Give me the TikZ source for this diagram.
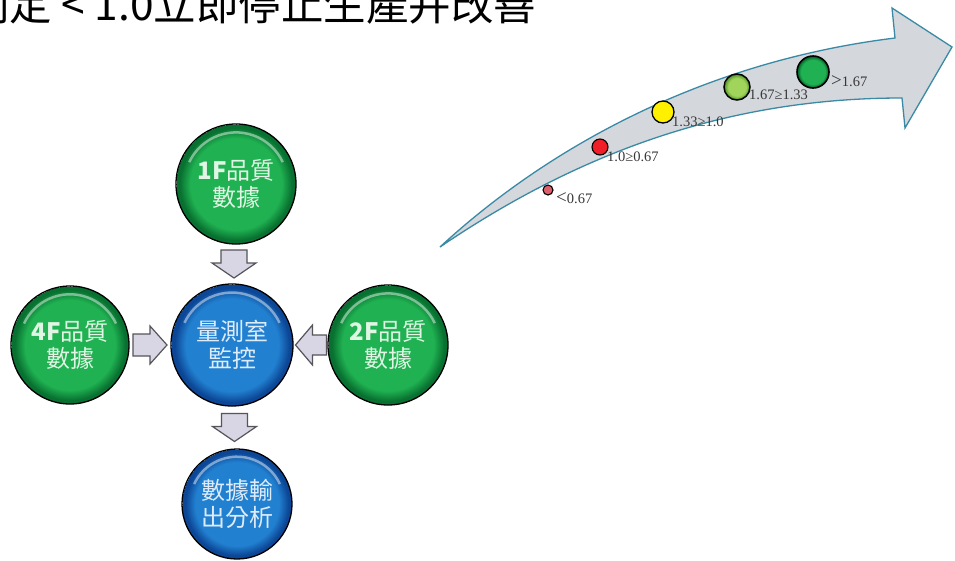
\documentclass[tikz,border=0pt]{standalone}
\usepackage{fontspec}
\setmainfont{Liberation Serif}
\newfontfamily\cjk{Noto Sans CJK TC}
\usetikzlibrary{calc}
\definecolor{gC}{RGB}{32,178,82}
\definecolor{gD}{RGB}{8,112,48}
\definecolor{gT}{RGB}{225,245,228}
\definecolor{bC}{RGB}{34,128,208}
\definecolor{bD}{RGB}{12,70,150}
\definecolor{bT}{RGB}{222,236,250}
\definecolor{lgC}{RGB}{160,212,90}
\definecolor{lgD}{RGB}{95,160,50}
\definecolor{arrFill}{RGB}{216,213,228}
\definecolor{arrLine}{RGB}{85,85,90}
\definecolor{bandFill}{RGB}{212,215,220}
\definecolor{bandLine}{RGB}{58,138,165}
\definecolor{lblC}{RGB}{55,55,55}
\pgfdeclareradialshading{greenball}{\pgfpoint{0bp}{0bp}}{color(0bp)=(gC); color(19bp)=(gC); color(23.5bp)=(gD); color(25bp)=(gD)}
\pgfdeclareradialshading{blueball}{\pgfpoint{0bp}{0bp}}{color(0bp)=(bC); color(19bp)=(bC); color(23.5bp)=(bD); color(25bp)=(bD)}
\pgfdeclareradialshading{lgreenball}{\pgfpoint{0bp}{0bp}}{color(0bp)=(lgC); color(17bp)=(lgC); color(23bp)=(lgD); color(25bp)=(lgD)}
\tikzset{
  ball/.style={circle, draw=black, line width=1.3pt, inner sep=0pt, align=center,
    font=\cjk\fontsize{24}{27}\selectfont,
    path picture={\draw[white, opacity=0.45, line width=2.5pt]
      (path picture bounding box.center) ++(25:0.86*#1) arc (25:155:0.86*#1);}},
  gball/.style={ball=#1, minimum size=2*#1, shading=greenball, text=gT},
  bball/.style={ball=#1, minimum size=2*#1, shading=blueball, text=bT},
  smallarrow/.style={fill=arrFill, draw=arrLine, line width=1.2pt, line join=miter},
  dot/.style={circle, draw=black, line width=1.1pt, inner sep=0pt},
  lbl/.style={anchor=west, inner sep=0pt, text=lblC, font=\fontsize{14.5}{16}\selectfont},
}
\begin{document}
\begin{tikzpicture}[x=1pt, y=-1pt]
\useasboundingbox (0,0) rectangle (955,560);
\fill[white] (0,0) rectangle (955,560);

% title (cut at the page edges)
\node[anchor=base west, inner sep=0pt, font=\cjk\fontsize{42.5}{48}\selectfont] (title) at (-33,20) {判定 < 1.0立即停止生產并改善};

% curved band arrow
\filldraw[fill=bandFill, draw=bandLine, line width=1.3pt, line join=miter]
  (440,247) .. controls (545,150) and (700,62) .. (895,38) -- (892,8) -- (952,47)
  -- (905,128) -- (902,98) .. controls (740,98) and (590,145) .. (440,247) -- cycle;

% traffic dots
\node[dot, fill={rgb,255:red,222;green,95;blue,108}, minimum size=10pt] (d1) at (548,190) {};
\node[dot, fill={rgb,255:red,240;green,30;blue,40}, minimum size=16pt] (d2) at (600,147) {};
\node[dot, fill={rgb,255:red,255;green,240;blue,0}, minimum size=22pt, line width=1.3pt] (d3) at (663,112) {};
\node[dot, shading=lgreenball, minimum size=26pt, line width=1.5pt] (d4) at (737,87) {};
\node[dot, shading=greenball, minimum size=32pt, line width=1.6pt] (d5) at (813,72) {};

\node[lbl] (l1) at (556,198) {{\fontsize{19}{19}\selectfont <}0.67};
\node[lbl] (l2) at (607,157) {1.0≥0.67};
\node[lbl] (l3) at (672,122) {1.33≥1.0};
\node[lbl] (l4) at (749,95) {1.67≥1.33};
\node[lbl] (l5) at (831,81) {{\fontsize{19}{19}\selectfont >}1.67};

% circles
\node[gball=60pt] (f1) at (236,184) {\textbf{1F}品質\\數據};
\node[bball=61pt] (c)  at (232,345) {量測室\\監控};
\node[gball=59pt] (f4) at (70,345)  {\textbf{4F}品質\\數據};
\node[gball=60pt] (f2) at (388,345) {\textbf{2F}品質\\數據};
\node[bball=55pt] (out) at (237,504) {數據輸\\出分析};

% block arrows between the circles
\coordinate (a1) at ($(f1.south)!0.5!(c.north)$);
\coordinate (a2) at ($(f4.east)!0.5!(c.west)$);
\coordinate (a3) at ($(f2.west)!0.5!(c.east)$);
\coordinate (a4) at ($(c.south)!0.5!(out.north)$);
\draw[smallarrow, shift={(a1)}] (-13,-14) -- (13,-14) -- (13,-1) -- (22,-1) -- (0,14) -- (-22,-1) -- (-13,-1) -- cycle;
\draw[smallarrow, shift={(a4)}] (-13,-14) -- (13,-14) -- (13,-1) -- (22,-1) -- (0,14) -- (-22,-1) -- (-13,-1) -- cycle;
\draw[smallarrow, shift={(a2)}, rotate=90] (-11,-17) -- (11,-17) -- (11,0) -- (19,0) -- (0,17) -- (-19,0) -- (-11,0) -- cycle;
\draw[smallarrow, shift={(a3)}, rotate=-90] (-10,-16) -- (10,-16) -- (10,-2) -- (20,-2) -- (0,15) -- (-20,-2) -- (-10,-2) -- cycle;
\end{tikzpicture}
\end{document}
